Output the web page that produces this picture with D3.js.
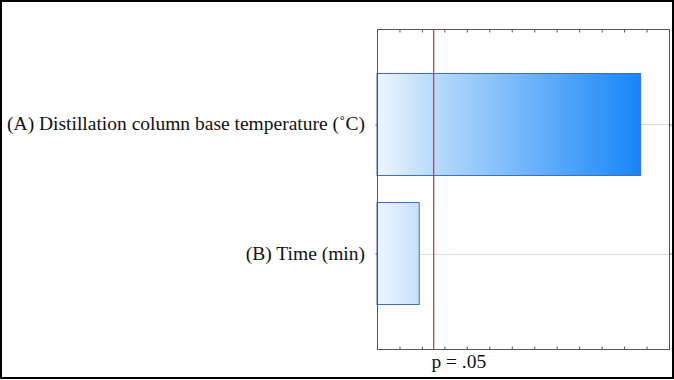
<!DOCTYPE html>
<meta charset="utf-8">
<style>
body { margin: 0; background: #fff; }
svg { display: block; }
.lbl { font-family: "Liberation Serif", "Times New Roman", serif; font-size: 19.5px; fill: #111; }
.pline { stroke: #ff2b2b; stroke-width: 1px; }
</style>
<div class="chart"></div>
<script src="https://d3js.org/d3.v7.min.js"></script>
<script>

// data (standardized effect)
var factors = ["(A) Distillation column base temperature (˚C)", "(B) Time (min)"];
var effects = [11.74, 1.88];
var pCrit = 2.51;
var pLabel = ["p = .05"];
var xMax = 13;

var width = 674, height = 380;
var plot = {left: 377, top: 29, right: 669, bottom: 349};

var svg = d3.select(".chart").append("svg")
    .attr("width", width)
    .attr("height", height);

var defs = svg.append("defs");

var x = d3.scaleLinear().domain([0, xMax]).range([plot.left, plot.right]);
var y = d3.scalePoint().domain(factors).range([plot.top, plot.bottom]).padding(0.74);
var barH = 102;

var grad = defs.append("linearGradient")
    .attr("id", "barGrad")
    .attr("gradientUnits", "userSpaceOnUse")
    .attr("x1", x(0)).attr("x2", x(d3.max(effects)))
    .attr("y1", 0).attr("y2", 0);
grad.append("stop").attr("offset", "0%").attr("stop-color", "#eef6fe");
grad.append("stop").attr("offset", "20%").attr("stop-color", "#bcdcfc");
grad.append("stop").attr("offset", "100%").attr("stop-color", "#1785f8");

// horizontal grid lines at each factor
svg.append("g")
    .selectAll("line")
    .data(factors)
    .enter()
    .append("line")
    .attr("x1", plot.left).attr("x2", plot.right)
    .attr("y1", function(d) { return Math.round(y(d)) + 0.5; })
    .attr("y2", function(d) { return Math.round(y(d)) + 0.5; })
    .attr("stroke", "#dcdcdc")
    .attr("stroke-width", 1);

// bars
svg.append("g")
    .selectAll("rect")
    .data(effects)
    .enter()
    .append("rect")
    .attr("x", x(0))
    .attr("y", function(d, i) { return y(factors[i]) - barH / 2; })
    .attr("width", function(d) { return x(d) - x(0); })
    .attr("height", barH)
    .attr("fill", "url(#barGrad)")
    .attr("stroke", "#3d6fc2")
    .attr("stroke-width", 1);

// frame of plot with inward ticks
var ticks = d3.range(0, xMax + 1);
var axisTop = d3.axisTop(x).tickValues(ticks).tickSize(-3).tickFormat("");
var axisBottom = d3.axisBottom(x).tickValues(ticks).tickSize(-3).tickFormat("");
svg.append("g").attr("transform", "translate(0," + (plot.top + 0.5) + ")").call(axisTop);
svg.append("g").attr("transform", "translate(0," + (plot.bottom + 0.5) + ")").call(axisBottom);
var axisLeft = d3.axisLeft(y).tickSize(2).tickFormat("");
var axisRight = d3.axisRight(y).tickSize(2).tickFormat("");
svg.append("g").attr("transform", "translate(" + (plot.left + 0.5) + ",0)").call(axisLeft);
svg.append("g").attr("transform", "translate(" + (plot.right + 0.5) + ",0)").call(axisRight);
svg.selectAll(".tick line").attr("stroke", "#555");
svg.selectAll(".domain").remove();

svg.append("rect")
    .attr("x", plot.left + 0.5).attr("y", plot.top + 0.5)
    .attr("width", plot.right - plot.left).attr("height", plot.bottom - plot.top)
    .attr("fill", "none")
    .attr("stroke", "#555")
    .attr("stroke-width", 1);

// p = .05 line
svg.append("rect")
    .attr("class", "pline-fill")
    .attr("x", Math.round(x(pCrit)))
    .attr("y", plot.top + 1)
    .attr("width", 1.3)
    .attr("height", plot.bottom - plot.top - 1)
    .attr("fill", "#f2322c");

// factor labels
svg.append("g")
    .selectAll("text")
    .data(factors)
    .enter()
    .append("text")
    .attr("class", "lbl")
    .attr("x", 365)
    .attr("y", function(d) { return y(d) + 6; })
    .style("text-anchor", "end")
    .text(function(d) { return d; });

svg.append("text")
    .attr("class", "lbl")
    .attr("x", x(pCrit) - 2)
    .attr("y", 368)
    .text(pLabel[0]);

// outer black frame
svg.append("rect")
    .attr("x", 1).attr("y", 1)
    .attr("width", width - 2).attr("height", height - 3)
    .attr("fill", "none")
    .attr("stroke", "#000")
    .attr("stroke-width", 2);

</script>
